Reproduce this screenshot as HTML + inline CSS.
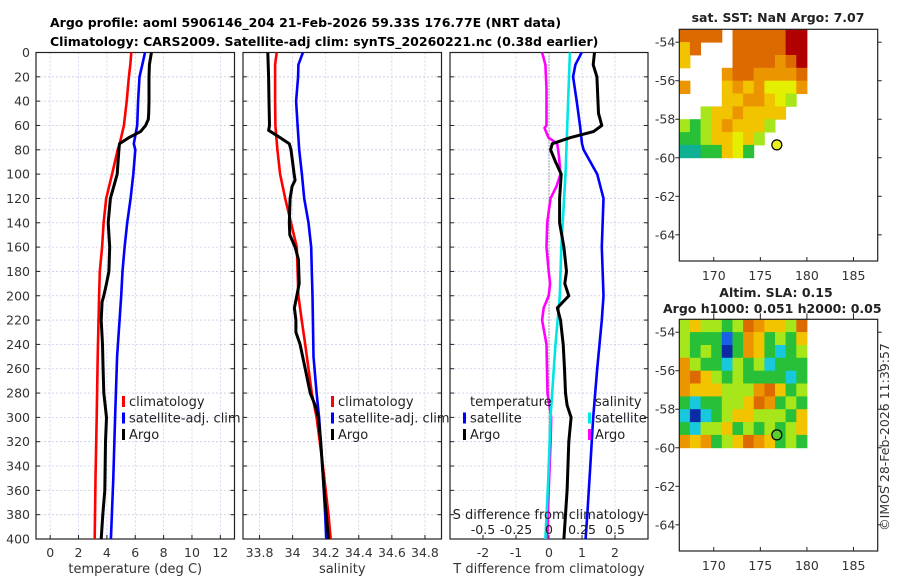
<!DOCTYPE html>
<html><head><meta charset="utf-8"><style>
html,body{margin:0;padding:0;background:#fff}
svg{display:block;font-family:"DejaVu Sans","Liberation Sans",sans-serif}
</style></head><body>
<svg id="c" width="900" height="580" viewBox="0 0 900 580" xmlns="http://www.w3.org/2000/svg">
<text x="50" y="27" font-size="12.5" font-weight="bold">Argo profile: aoml 5906146_204 21-Feb-2026 59.33S 176.77E (NRT data)</text>
<text x="50" y="46" font-size="12.5" font-weight="bold">Climatology: CARS2009. Satellite-adj clim: synTS_20260221.nc (0.38d earlier)</text>
<g id="root"></g>
</svg>
<script>
// ---- data ----
const tDepth = [0,10,20,40,60,75,80,100,120,140,160,180,200,250,300,350,400];
const tClim  = [5.72,5.65,5.55,5.4,5.2,4.9,4.76,4.37,3.95,3.77,3.66,3.5,3.45,3.35,3.28,3.2,3.14];
const tSat   = [6.69,6.5,6.3,6.2,6.14,5.9,6.0,5.86,5.67,5.43,5.25,5.1,5.01,4.72,4.58,4.45,4.28];
const aDepth = [0,10,20,40,50,55,60,65,70,75,80,100,110,120,140,160,180,190,200,205,220,240,260,280,300,320,360,380,400];
const tArgo  = [7.14,7.0,6.97,6.97,6.95,6.92,6.73,6.38,5.55,4.89,4.85,4.73,4.49,4.25,4.09,4.2,4.14,3.97,3.78,3.66,3.6,3.69,3.73,3.78,3.97,3.9,3.85,3.71,3.6];
const sDepth = [0,10,40,60,80,100,120,140,160,200,220,240,280,300,340,380,400];
const sClim  = [33.904,33.894,33.894,33.896,33.908,33.924,33.955,33.99,34.025,34.035,34.055,34.076,34.116,34.145,34.183,34.217,34.23];
const sSatD  = [0,10,20,40,60,80,100,120,140,160,180,200,250,280,300,340,380,400];
const sSat   = [34.062,34.035,34.033,34.021,34.03,34.04,34.056,34.07,34.096,34.112,34.116,34.12,34.126,34.145,34.16,34.18,34.197,34.203];
const sArgoD = [0,20,40,60,64,70,75,80,90,100,105,110,120,140,150,160,170,190,200,210,220,230,240,260,280,290,300,320,360,400];
const sArgo  = [33.85,33.855,33.857,33.86,33.855,33.924,33.98,33.99,34.0,34.009,34.015,33.997,33.985,33.98,33.983,34.015,34.035,34.04,34.025,34.011,34.02,34.02,34.045,34.076,34.106,34.136,34.155,34.17,34.19,34.217];
const dTArgoD = [0,10,20,50,60,65,70,75,80,90,100,120,140,160,180,190,200,210,220,240,260,280,290,300,320,360,380,400];
const dTArgo  = [1.38,1.34,1.45,1.5,1.6,1.35,0.65,0.1,0.05,0.2,0.37,0.32,0.32,0.45,0.53,0.48,0.6,0.25,0.35,0.43,0.47,0.5,0.55,0.67,0.6,0.55,0.5,0.45];
const dTSatD  = [0,10,20,40,60,75,80,100,120,160,200,220,260,300,340,380,400];
const dTSat   = [0.99,0.8,0.73,0.84,0.94,1.0,1.05,1.46,1.65,1.6,1.65,1.6,1.46,1.34,1.25,1.16,1.11];
const dSSatD  = [0,100,160,200,240,300,350,400];
const dSSat   = [0.158,0.125,0.093,0.082,0.049,0.011,-0.005,-0.027];
const dSArgoD = [0,10,30,60,62,70,75,85,100,110,120,140,160,180,190,200,210,220,240,280,300,320,360,400];
const dSArgo  = [-0.052,-0.027,-0.019,-0.019,-0.034,-0.004,0.062,0.075,0.087,0.057,0.011,-0.014,-0.019,-0.002,0.008,-0.002,-0.04,-0.052,-0.019,-0.011,0.017,0.012,-0.002,-0.014];
const depthTicks = [0,20,40,60,80,100,120,140,160,180,200,220,240,260,280,300,320,340,360,380,400];
const tTicks = [0,2,4,6,8,10,12];
const sTicks = [33.8,34,34.2,34.4,34.6,34.8];
const sTickLabels = ["33.8","34","34.2","34.4","34.6","34.8"];
const dTTicks = [-2,-1,0,1,2];
const dSTicks = [-0.5,-0.25,0,0.25,0.5];
const lonTicks = [170,175,180,185];
const latTicks = [-54,-56,-58,-60,-62,-64];
const argoLon = 176.77, argoLat = -59.33;
const sstGrid = [
"OOOO.OOOOORR",
"yO...OOOOORR",
"y....OOOOoOR",
"....oOOooooO",
"o...yoyoYYYo",
"....yyooyYg.",
"..gyyoyyyy..",
"gGgyoyyyg...",
"GGgyyYyg....",
"TTGGyYG....."];
const slaGrid = [
"gyggGgOoyygO",
"gGGGbGoyGgGy",
"gGgGBGoyGcGg",
"ogGGcgGgcGGG",
"oOygGgGGGGcG",
"oyyygggoOyGg",
"GcGGggyOoGgG",
"cBcGgyygggGy",
"GcggyGgGgGgy",
"oyoGgyOoyGgG"];
// ---- drawing ----
const NS="http://www.w3.org/2000/svg";
const root=document.getElementById('root');
function mk(tag,attrs,parent){const e=document.createElementNS(NS,tag);for(const k in attrs)e.setAttribute(k,attrs[k]);(parent||root).appendChild(e);return e;}
const Y0=52.5,Y1=539;
const yD=d=>Y0+(d/400)*(Y1-Y0);
function panel(name,x0,x1,vmin,vmax,ticks,labels,xlabel){
  const g=mk('g',{});
  
  
  const xs=v=>x0+(v-vmin)/(vmax-vmin)*(x1-x0);
  depthTicks.forEach(d=>{mk('line',{x1:x0,x2:x1,y1:yD(d),y2:yD(d),stroke:'#c8cce8','stroke-width':0.8,'stroke-dasharray':'2,2'},g);});
  ticks.forEach(v=>{mk('line',{x1:xs(v),x2:xs(v),y1:Y0,y2:Y1,stroke:'#c8cce8','stroke-width':0.8,'stroke-dasharray':'2,2'},g);});
  depthTicks.forEach(d=>{mk('line',{x1:x0,x2:x0+4,y1:yD(d),y2:yD(d),stroke:'#222'},g);mk('line',{x1:x1-4,x2:x1,y1:yD(d),y2:yD(d),stroke:'#222'},g);});
  ticks.forEach((v,i)=>{mk('line',{x1:xs(v),x2:xs(v),y1:Y1,y2:Y1-4,stroke:'#222'},g);
    if(labels){const t=mk('text',{x:xs(v),y:Y1+18,'font-size':12.5,'text-anchor':'middle',fill:'#333'},g);t.textContent=labels[i];
    
    }});
  mk('rect',{x:x0,y:Y0,width:x1-x0,height:Y1-Y0,fill:'none',stroke:'#222','stroke-width':1.2},g);
  if(xlabel){const t=mk('text',{x:(x0+x1)/2,y:Y1+34,'font-size':13,'text-anchor':'middle',fill:'#333'},g);t.textContent=xlabel;
    
    }
  return {g,xs};
}
function line(p,ds,vs,color,name,w){
  const pts=ds.map((d,i)=>p.xs(vs[i]).toFixed(1)+','+yD(d).toFixed(1)).join(' ');
  const e=mk('polyline',{points:pts,fill:'none',stroke:color,'stroke-width':w||2.6,'stroke-linejoin':'round'},p.g);
  
  
}
function txt(x,y,s,name,opts){const t=mk('text',Object.assign({x:x,y:y,'font-size':13,fill:'#222'},opts||{}));t.textContent=s;
  
  return t;}
function legend(x,y,items,name){
  items.forEach((it,i)=>{mk('rect',{x:x,y:y+i*16.5-10,width:3,height:11,fill:it[1]});
    txt(x+7,y+i*16.5,it[0],name);});
}
depthTicks.forEach(d=>{txt(30,yD(d)+4.5,String(d),'y-tick-label',{'text-anchor':'end','font-size':12.5,fill:'#333'});});
const p1=panel('temperature-panel',36,234.5,-1,13,tTicks,tTicks.map(String),'temperature (deg C)');
line(p1,tDepth,tClim,'#ff0000','temp-climatology-line');
line(p1,tDepth,tSat,'#0000ff','temp-satellite-line');
line(p1,aDepth,tArgo,'#000','temp-argo-line',3);
legend(122,406,[['climatology','#ff0000'],['satellite-adj. clim','#0000ff'],['Argo','#000']],'legend-entry');
const p2=panel('salinity-panel',243,441.5,33.7,34.9,sTicks,sTickLabels,'salinity');
line(p2,sDepth,sClim,'#ff0000','sal-climatology-line');
line(p2,sSatD,sSat,'#0000ff','sal-satellite-line');
line(p2,sArgoD,sArgo,'#000','sal-argo-line',3);
legend(331,406,[['climatology','#ff0000'],['satellite-adj. clim','#0000ff'],['Argo','#000']],'legend-entry');
const p3=panel('difference-panel',450,648,-3,3,dTTicks,dTTicks.map(String),'T difference from climatology');
mk('line',{x1:p3.xs(0),x2:p3.xs(0),y1:Y0,y2:Y1,stroke:'#555','stroke-width':1,'stroke-dasharray':'1,2'},p3.g);
const p3s={g:p3.g,xs:v=>p3.xs(v*4)};
line(p3s,dSArgoD,dSArgo,'#ff00ff','sdiff-argo-line');
line(p3s,dSSatD,dSSat,'#00e5e5','sdiff-satellite-line');
line(p3,dTSatD,dTSat,'#0000ff','tdiff-satellite-line');
line(p3,dTArgoD,dTArgo,'#000','tdiff-argo-line',3);
txt(470,406,'temperature','legend-title');
txt(595,406,'salinity','legend-title');
legend(463,422.5,[['satellite','#0000ff'],['Argo','#000']],'legend-entry');
legend(588,422.5,[['satellite','#00e5e5'],['Argo','#ff00ff']],'legend-entry');
txt(548.5,519,'S difference from climatology','s-axis-title',{'text-anchor':'middle'});
dSTicks.forEach(v=>txt(p3s.xs(v),534,String(v),'s-tick-label',{'text-anchor':'middle','font-size':12.5}));
const colors={R:'#b00000',O:'#dd6a00',o:'#eb9600',y:'#f2c400',Y:'#e4ee00',g:'#a6e61a',G:'#28c038',T:'#10b094',c:'#18c8dc',b:'#1a60e6',B:'#0a2aa6'};
function map(name,top,grid,dotColor,titleLines,showXTop){
  const g=mk('g',{});
  
  
  const L=679.3,R=877.7,H=231.7;
  const lx=lon=>L+(lon-166.3)/(187.6-166.3)*(R-L);
  const ly=lat=>top+(-53.33-lat)/(65.36-53.33)*H;
  const cols=grid[0].length,rows=grid.length;
  const cw=(lx(180)-lx(166.3))/cols, ch=(ly(-60)-ly(-53.33))/rows;
  grid.forEach((row,r)=>{[...row].forEach((c,k)=>{if(c!=='.'){mk('rect',{x:(L+k*cw).toFixed(1),y:(top+r*ch).toFixed(1),width:(cw+0.5).toFixed(1),height:(ch+0.5).toFixed(1),fill:colors[c]},g);}});});
  mk('rect',{x:L,y:top,width:R-L,height:H,fill:'none',stroke:'#222','stroke-width':1.2},g);
  lonTicks.forEach(v=>{mk('line',{x1:lx(v),x2:lx(v),y1:top+H,y2:top+H-4,stroke:'#222'},g);
    if(showXTop)mk('line',{x1:lx(v),x2:lx(v),y1:top-6,y2:top,stroke:'#222'},g);
    txt(lx(v),top+H+19,String(v),'map-x-tick-label',{'text-anchor':'middle','font-size':12.5,fill:'#333'});});
  latTicks.forEach(v=>{mk('line',{x1:L,x2:L-4,y1:ly(v),y2:ly(v),stroke:'#222'},g);mk('line',{x1:R,x2:R+4,y1:ly(v),y2:ly(v),stroke:'#222'},g);
    txt(L-4,ly(v)+4.5,String(v),'map-y-tick-label',{'text-anchor':'end','font-size':12.5,fill:'#333'});});
  const dot=mk('circle',{cx:lx(argoLon),cy:ly(argoLat),r:5,fill:dotColor,stroke:'#000','stroke-width':1.2},g);
  
  
  titleLines.forEach(tl=>txt(tl[0],tl[1],tl[2],'map-title',{'font-weight':'bold','text-anchor':tl[3]||'middle','font-size':12.5}));
}
map('sst-map',29.3,sstGrid,'#e8f020',[[778,22,'sat. SST: NaN Argo: 7.07']],false);
map('sla-map',319.3,slaGrid,'#5cd02a',[[776,297,'Altim. SLA: 0.15'],[663,313,'Argo h1000: 0.051 h2000: 0.05','start']],true);
txt(0,0,'©IMOS 28-Feb-2026 11:39:57','timestamp',{'font-size':12.5,'text-anchor':'middle',fill:'#333',transform:'translate(889,437) rotate(-90)'});
</script>
</body></html>
